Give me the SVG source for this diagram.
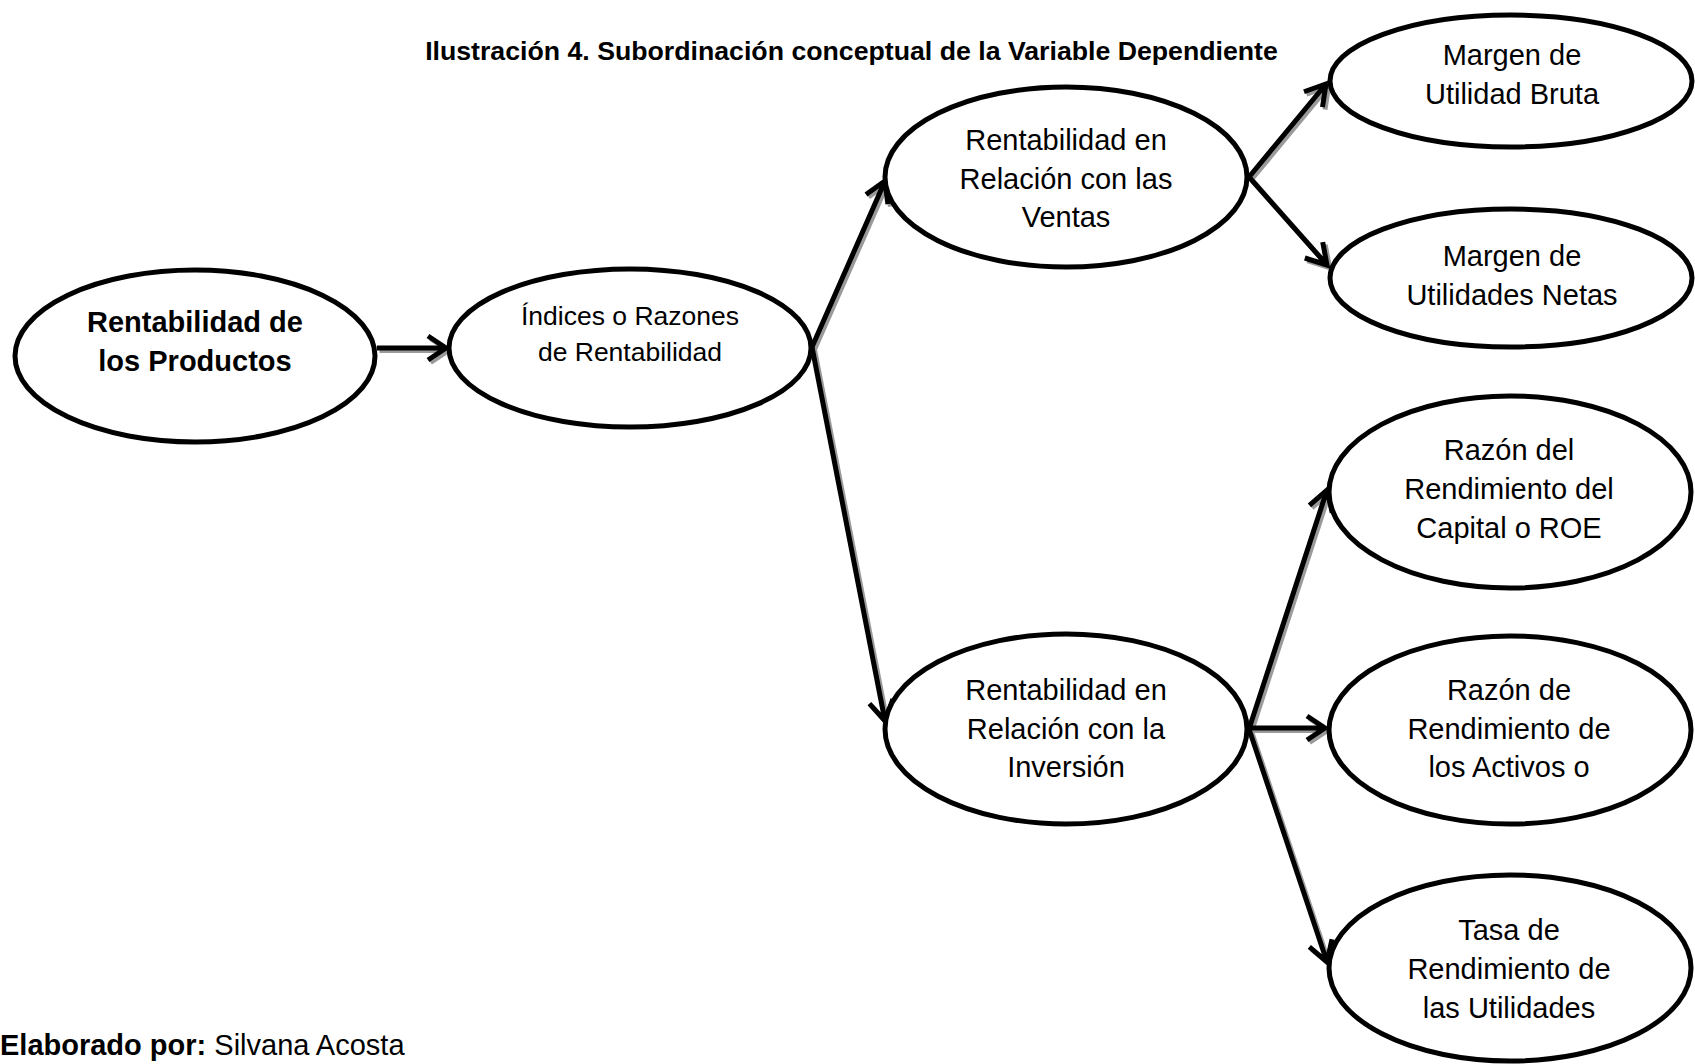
<svg xmlns="http://www.w3.org/2000/svg" xmlns:xlink="http://www.w3.org/1999/xlink" width="1695" height="1064" viewBox="0 0 1695 1064">
  <style>
    .node ellipse { fill: #fff; stroke: #000; stroke-width: 5; }
    .node text { font-family: "Liberation Sans", Arial, sans-serif; font-size: 29px; fill: #000; text-anchor: middle; }
    .node text.bold { font-weight: bold; }
    .node text.small { font-size: 26.5px; }
    .title { font-family: "Liberation Sans", Arial, sans-serif; font-size: 26.7px; font-weight: bold; text-anchor: middle; }
    .footer { font-family: "Liberation Sans", Arial, sans-serif; font-size: 29px; }
    .conn { fill: none; stroke-width: 5; stroke-linejoin: miter; stroke-miterlimit: 4; }
  </style>
  <defs>
    <!-- connector lines with open chevron heads; stroke comes from the using group -->
    <g id="arrowSet">
      <path d="M377,348 L446,348 M428,336 L446,348 L428,360"/>
      <path d="M812,347 L885,181 M887.9,204.1 L885,181 L866,194.5"/>
      <path d="M812,347 L885,721 M869.4,703.7 L885,721 L892.9,699.1"/>
      <path d="M1249,177 L1326,84 M1322.5,107.1 L1326,84 L1304,91.75"/>
      <path d="M1249,177 L1327,265 M1304.8,258 L1327,265 L1322.7,242.1"/>
      <path d="M1249,729 L1327,490 M1332.2,512.7 L1327,490 L1309.4,505.3"/>
      <path d="M1249,728 L1325,728 M1307,716 L1325,728 L1307,740"/>
      <path d="M1249,729 L1327,962 M1309.3,946.8 L1327,962 L1332,939.2"/>
    </g>
  </defs>

  <text class="title" x="851.5" y="60">Ilustración 4. Subordinación conceptual de la Variable Dependiente</text>

  <g id="connectors">
    <g class="conn" stroke="#9a9a9a" transform="translate(2.5,2.5)"><use xlink:href="#arrowSet"/></g>
    <g class="conn" stroke="#000"><use xlink:href="#arrowSet"/></g>
  </g>

  <g id="n-rentabilidad-productos" class="node">
    <ellipse cx="195" cy="356" rx="180" ry="86"/>
    <text class="bold" x="195" y="332">Rentabilidad de</text>
    <text class="bold" x="195" y="371">los Productos</text>
  </g>

  <g id="n-indices" class="node">
    <ellipse cx="630" cy="348" rx="181" ry="79"/>
    <text class="small" x="630" y="325">Índices o Razones</text>
    <text class="small" x="630" y="361">de Rentabilidad</text>
  </g>

  <g id="n-rel-ventas" class="node">
    <ellipse cx="1066" cy="177" rx="181" ry="90"/>
    <text x="1066" y="150">Rentabilidad en</text>
    <text x="1066" y="189">Relación con las</text>
    <text x="1066" y="227">Ventas</text>
  </g>

  <g id="n-rel-inversion" class="node">
    <ellipse cx="1066" cy="729" rx="181" ry="95"/>
    <text x="1066" y="700">Rentabilidad en</text>
    <text x="1066" y="739">Relación con la</text>
    <text x="1066" y="777">Inversión</text>
  </g>

  <g id="n-margen-bruta" class="node">
    <ellipse cx="1511" cy="81" rx="181" ry="66"/>
    <text x="1512" y="65">Margen de</text>
    <text x="1512" y="104">Utilidad Bruta</text>
  </g>

  <g id="n-margen-netas" class="node">
    <ellipse cx="1511" cy="278" rx="181" ry="69"/>
    <text x="1512" y="266">Margen de</text>
    <text x="1512" y="305">Utilidades Netas</text>
  </g>

  <g id="n-roe" class="node">
    <ellipse cx="1510" cy="492" rx="181" ry="96"/>
    <text x="1509" y="460">Razón del</text>
    <text x="1509" y="499">Rendimiento del</text>
    <text x="1509" y="538">Capital o ROE</text>
  </g>

  <g id="n-activos" class="node">
    <ellipse cx="1510" cy="730" rx="181" ry="94"/>
    <text x="1509" y="700">Razón de</text>
    <text x="1509" y="739">Rendimiento de</text>
    <text x="1509" y="777">los Activos o</text>
  </g>

  <g id="n-utilidades" class="node">
    <ellipse cx="1510" cy="968" rx="181" ry="93"/>
    <text x="1509" y="940">Tasa de</text>
    <text x="1509" y="979">Rendimiento de</text>
    <text x="1509" y="1018">las Utilidades</text>
  </g>

  <text class="footer" x="0" y="1055"><tspan font-weight="bold">Elaborado por:</tspan> Silvana Acosta</text>
</svg>
